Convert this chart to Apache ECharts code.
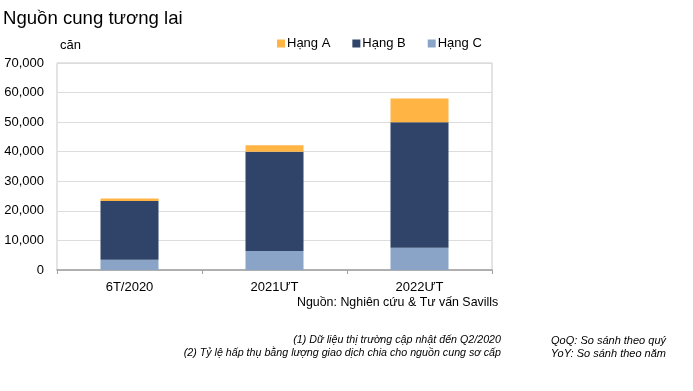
<!DOCTYPE html>
<html>
<head>
<meta charset="utf-8">
<script src="https://cdn.jsdelivr.net/npm/echarts@6/dist/echarts.min.js"></script>
<style>html,body{margin:0;padding:0;background:#fff}#c{width:693px;height:391px}</style>
</head>
<body>
<div id="c"></div>
<script>
var categories = ['6T/2020', '2021ƯT', '2022ƯT'];
var hangA = [900, 2200, 8000];
var hangB = [19800, 33600, 42500];
var hangC = [3500, 6400, 7500];
var yTicks = [0, 10000, 20000, 30000, 40000, 50000, 60000, 70000];

var FONT = '"Liberation Sans", Arial, sans-serif';
var chart = echarts.init(document.getElementById('c'), null, {renderer: 'canvas'});
var option = {
  animation: false,
  backgroundColor: '#fff',
  textStyle: {fontFamily: FONT},
  title: {
    text: 'Nguồn cung tương lai',
    left: -2, top: 4,
    textStyle: {fontFamily: FONT, fontSize: 18.6, fontWeight: 'normal', color: '#000'}
  },
  legend: {
    data: ['Hạng A', 'Hạng B', 'Hạng C'],
    left: 272, top: 32,
    itemWidth: 8, itemHeight: 8, itemGap: 22,
    icon: 'rect',
    textStyle: {fontFamily: FONT, fontSize: 13, color: '#000', padding: [0, 0, 0, -3]}
  },
  grid: {left: 57, right: 201, top: 63, bottom: 121, show: true, borderColor: '#c8c8c8', borderWidth: 1},
  xAxis: {
    type: 'category',
    data: categories,
    axisLine: {lineStyle: {color: '#a0a0a0', width: 1.5}},
    axisTick: {show: true, length: 4, lineStyle: {color: '#a0a0a0'}},
    axisLabel: {fontFamily: FONT, fontSize: 13, color: '#000', margin: 11}
  },
  yAxis: {
    type: 'value',
    min: yTicks[0], max: yTicks[yTicks.length - 1], interval: 10000,
    axisLine: {show: false},
    axisTick: {show: false},
    splitLine: {lineStyle: {color: '#dcdcdc', width: 1}},
    axisLabel: {
      fontFamily: FONT, fontSize: 13, color: '#000', margin: 13,
      formatter: function (v) { return v.toLocaleString('en-US'); }
    }
  },
  series: [
    {name: 'Hạng C', type: 'bar', stack: 's', data: hangC, barWidth: '40%', itemStyle: {color: '#8AA4C8'}},
    {name: 'Hạng B', type: 'bar', stack: 's', data: hangB, barWidth: '40%', itemStyle: {color: '#2F4468'}},
    {name: 'Hạng A', type: 'bar', stack: 's', data: hangA, barWidth: '40%', itemStyle: {color: '#FFB444'}}
  ],
  graphic: [
    {type: 'text', left: 60, top: 39, style: {text: 'căn', font: '13px ' + FONT, fill: '#000'}},
    {type: 'text', left: 297, top: 297, style: {text: 'Nguồn: Nghiên cứu & Tư vấn Savills', font: '12.4px ' + FONT, fill: '#000'}},
    {type: 'text', right: 192, top: 335, style: {text: '(1) Dữ liệu thị trường cập nhật đến Q2/2020', font: 'italic 10.7px ' + FONT, fill: '#000', align: 'right'}},
    {type: 'text', right: 192, top: 348, style: {text: '(2) Tỷ lệ hấp thụ bằng lượng giao dịch chia cho nguồn cung sơ cấp', font: 'italic 10.7px ' + FONT, fill: '#000', align: 'right'}},
    {type: 'text', right: 27, top: 335, style: {text: 'QoQ: So sánh theo quý', font: 'italic 11px ' + FONT, fill: '#000', align: 'right'}},
    {type: 'text', right: 27, top: 348, style: {text: 'YoY: So sánh theo năm', font: 'italic 11px ' + FONT, fill: '#000', align: 'right'}}
  ]
};
chart.setOption(option);
</script>
</body>
</html>
